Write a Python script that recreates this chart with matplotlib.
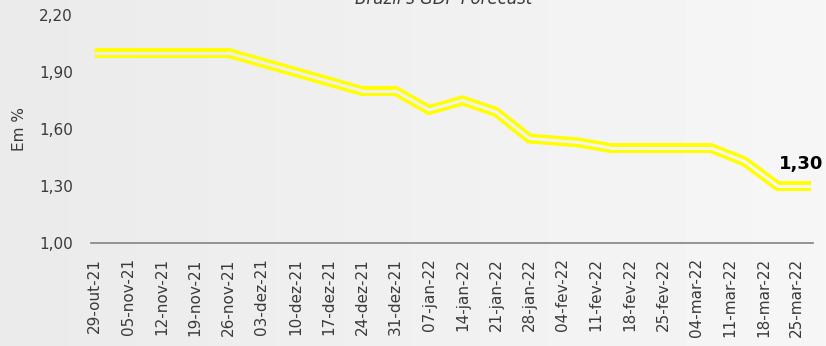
# plot.py
# Brazil's GDP forecast (weekly), drawn as a double yellow line

import numpy as np
import matplotlib.pyplot as plt
import matplotlib.dates as mdates
from matplotlib.collections import LineCollection

# --- data -------------------------------------------------------------
obs_dates = [
    "2021-10-29", "2021-11-05", "2021-11-12", "2021-11-19", "2021-11-26",
    "2021-12-03", "2021-12-10", "2021-12-17", "2021-12-24", "2021-12-31",
    "2022-01-07", "2022-01-14", "2022-01-21", "2022-01-28", "2022-02-07",
    "2022-02-14", "2022-02-21", "2022-03-07", "2022-03-14", "2022-03-21",
    "2022-03-28",
]
gdp_forecast = [
    2.00, 2.00, 2.00, 2.00, 2.00,
    1.95, 1.90, 1.85, 1.80, 1.80,
    1.70, 1.75, 1.69, 1.55, 1.53,
    1.50, 1.50, 1.50, 1.43, 1.30,
    1.30,
]

tick_dates = [
    "2021-10-29", "2021-11-05", "2021-11-12", "2021-11-19", "2021-11-26",
    "2021-12-03", "2021-12-10", "2021-12-17", "2021-12-24", "2021-12-31",
    "2022-01-07", "2022-01-14", "2022-01-21", "2022-01-28", "2022-02-04",
    "2022-02-11", "2022-02-18", "2022-02-25", "2022-03-04", "2022-03-11",
    "2022-03-18", "2022-03-25",
]
tick_labels = [
    "29-out-21", "05-nov-21", "12-nov-21", "19-nov-21", "26-nov-21",
    "03-dez-21", "10-dez-21", "17-dez-21", "24-dez-21", "31-dez-21",
    "07-jan-22", "14-jan-22", "21-jan-22", "28-jan-22", "04-fev-22",
    "11-fev-22", "18-fev-22", "25-fev-22", "04-mar-22", "11-mar-22",
    "18-mar-22", "25-mar-22",
]
y_ticks = [1.00, 1.30, 1.60, 1.90, 2.20]

TEXT = "#3a3a3a"
YELLOW = "#ffff00"
BG_LEFT, BG_RIGHT = 0.918, 0.965

x = mdates.date2num(np.array(obs_dates, dtype="datetime64[D]"))
y = np.array(gdp_forecast)
xt = mdates.date2num(np.array(tick_dates, dtype="datetime64[D]"))

W, H = 826, 346
fig = plt.figure(figsize=(W / 100, H / 100), dpi=100)

# horizontal grey gradient behind everything
bg = fig.add_axes([0, 0, 1, 1], zorder=-10)
grad = np.linspace(BG_LEFT, BG_RIGHT, 256)[None, :]
bg.imshow(grad, cmap="gray", vmin=0, vmax=1, aspect="auto",
          extent=[0, 1, 0, 1], interpolation="bilinear")
bg.set_axis_off()

left, right = 91 / W, 813 / W
bottom, top = 1 - 243 / H, 1 - 15 / H
ax = fig.add_axes([left, bottom, right - left, top - bottom])
ax.patch.set_alpha(0)

ax.set_xlim(x[0] - 0.8, x[-1] + 0.4)
ax.set_ylim(1.0, 2.2)

# outer yellow stroke
ax.plot(x, y, color=YELLOW, lw=7.2, solid_joinstyle="miter",
        solid_capstyle="butt", zorder=3)

# inner stroke in the local background shade -> "double" line look
pts = np.column_stack([x, y])
segs = np.stack([pts[:-1], pts[1:]], axis=1)
x0, x1 = ax.get_xlim()
mid_fig = left + (right - left) * ((x[:-1] + x[1:]) / 2 - x0) / (x1 - x0)
shade = BG_LEFT + (BG_RIGHT - BG_LEFT) * mid_fig
inner = LineCollection(segs, colors=[(s, s, s) for s in shade],
                       linewidths=2.2, capstyle="round", joinstyle="miter",
                       zorder=4)
ax.add_collection(inner)

# last value label
ax.annotate(f"{y[-1]:.2f}".replace(".", ","), (x[-1], y[-1]),
            xytext=(-7, 12), textcoords="offset points",
            ha="center", va="baseline", fontsize=13, fontweight="bold",
            color="black", annotation_clip=False)

ax.set_yticks(y_ticks)
ax.set_yticklabels([f"{v:.2f}".replace(".", ",") for v in y_ticks])
ax.set_xticks(xt)
ax.set_xticklabels(tick_labels, rotation=90, ha="center", va="top")

ax.tick_params(axis="y", length=0, pad=13, labelsize=11, labelcolor=TEXT)
ax.tick_params(axis="x", length=0, pad=11, labelsize=11, labelcolor=TEXT)

for side in ("top", "right", "left"):
    ax.spines[side].set_visible(False)
ax.spines["bottom"].set_color("#8c8c8c")
ax.spines["bottom"].set_linewidth(1.3)

fig.text(19 / W, 1 - 129 / H, "Em %", rotation=90, ha="center",
         va="center", fontsize=11, color=TEXT)
fig.text(444 / W, 1 - 4 / H, "Brazil's GDP Forecast", ha="center",
         va="baseline", fontsize=12, style="italic", color=TEXT)

fig.savefig("out.png", dpi=100)
